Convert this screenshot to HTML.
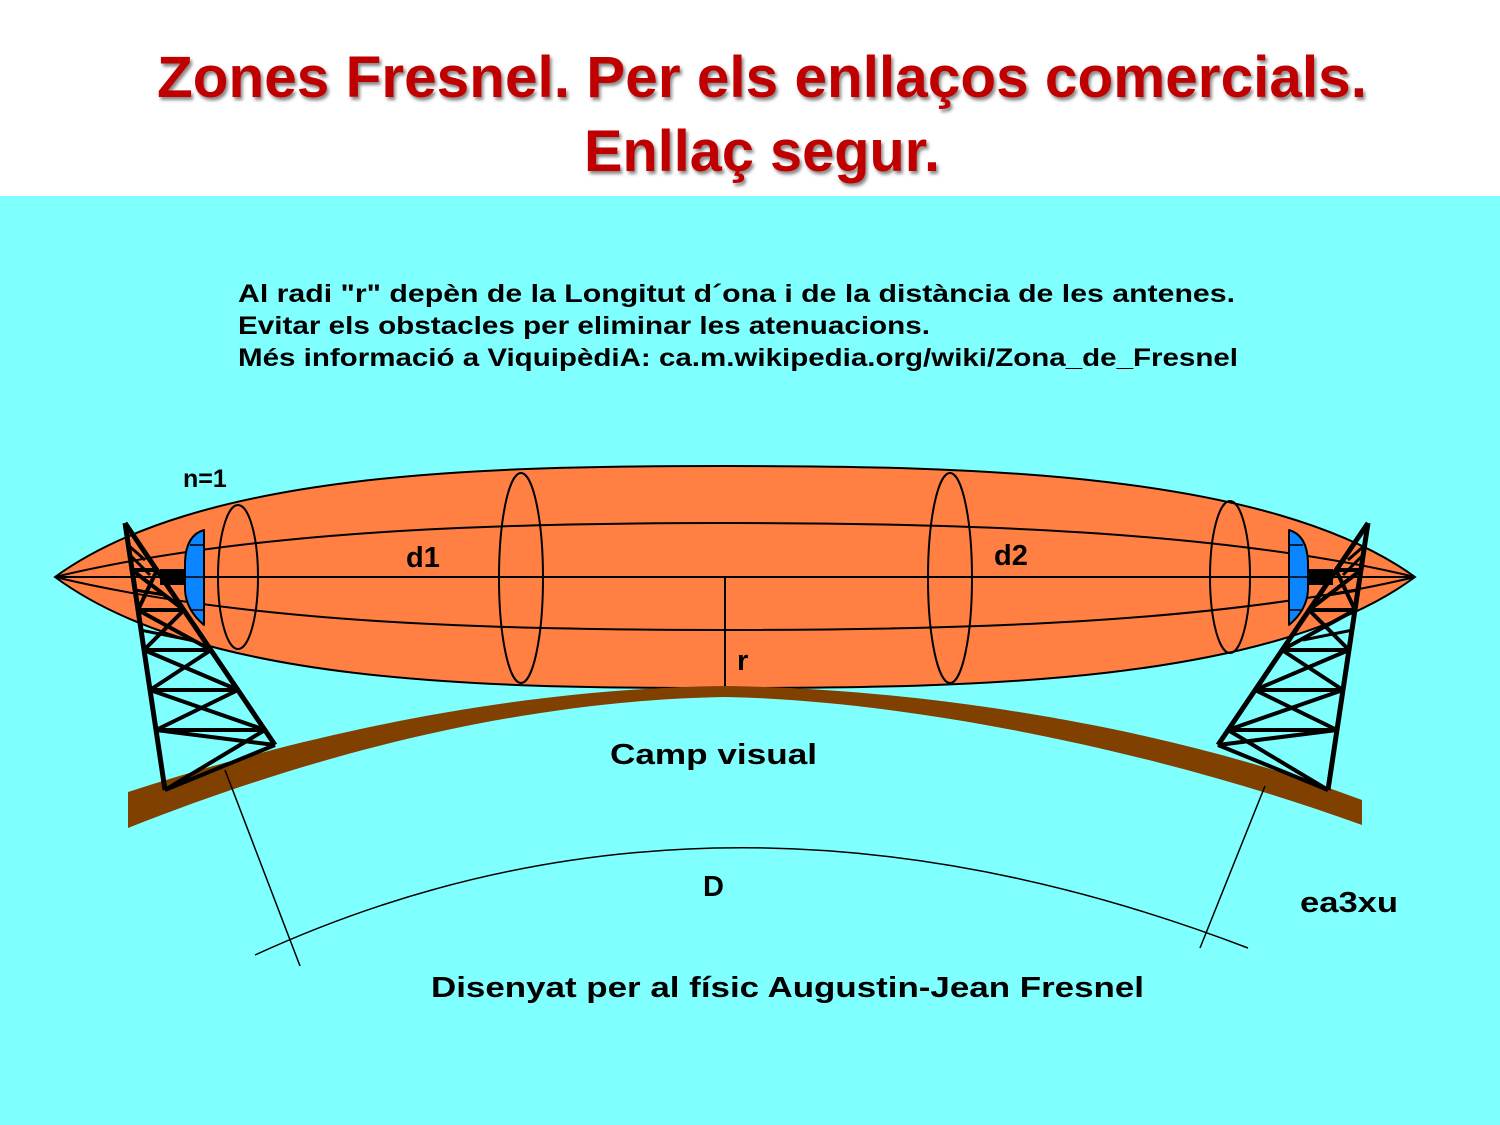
<!DOCTYPE html>
<html><head><meta charset="utf-8"><style>
html,body{margin:0;padding:0;background:#fff;}
svg{display:block;font-family:"Liberation Sans",Arial,sans-serif;font-weight:bold;}
</style></head><body>
<svg width="1500" height="1125" viewBox="0 0 1500 1125" xmlns="http://www.w3.org/2000/svg">
<defs>
<filter id="sh" x="-5%" y="-20%" width="110%" height="150%"><feDropShadow dx="2" dy="3" stdDeviation="1.5" flood-color="#555" flood-opacity="0.7"/></filter>
<g id="tower" fill="none" stroke="#000" stroke-width="4" stroke-linejoin="round">
<path d="M125,523 L165,790 M125,523 L275,745" stroke-width="5"/>
<path d="M132,570 L157,570 M138,610 L184,610 M144,650 L211,650 M150,690 L238,690 M156,730 L265,730 M165,790 L275,745"/>
<path d="M132,570 L184,610 M157,570 L138,610 M138,610 L211,650 M184,610 L144,650 M144,650 L238,690 M211,650 L150,690 M150,690 L265,730 M238,690 L156,730 M156,730 L275,745 M265,730 L165,790"/>
<path d="M128,545 L145,560 M130,555 L150,575 M135,590 L165,595 M140,630 L190,640" stroke-width="3"/>
<rect x="160" y="569" width="25" height="16" fill="#000" stroke="none"/>
<path d="M185,562 Q186,535 204,530 L204,625 Q186,610 185,590 Z" fill="#0a84ff" stroke="#000" stroke-width="2"/>
<path d="M185,577 L204,577 M190,545 L204,545 M190,610 L204,610" stroke-width="1.5"/>
</g>
</defs>
<rect x="0" y="0" width="1500" height="196" fill="#fff"/>
<rect x="0" y="196" width="1500" height="929" fill="#80ffff"/>
<g fill="#c00000" font-size="58" filter="url(#sh)">
<text x="762" y="97" text-anchor="middle" textLength="1210" lengthAdjust="spacingAndGlyphs">Zones Fresnel. Per els enllaços comercials.</text>
<text x="762" y="171" text-anchor="middle" textLength="356" lengthAdjust="spacingAndGlyphs">Enllaç segur.</text>
</g>
<g font-size="25" fill="#000">
<text x="238" y="302" textLength="997" lengthAdjust="spacingAndGlyphs">Al radi "r" depèn de la Longitut d´ona  i de la distància de les antenes.</text>
<text x="238" y="334" textLength="692" lengthAdjust="spacingAndGlyphs">Evitar els obstacles per eliminar les atenuacions.</text>
<text x="238" y="366" textLength="1000" lengthAdjust="spacingAndGlyphs">Més informació a ViquipèdiA: ca.m.wikipedia.org/wiki/Zona_de_Fresnel</text>
</g>
<path d="M55,577 C200,472 480,466 725,466 C970,466 1270,472 1415,577 C1270,684 970,688 725,688 C480,688 200,684 55,577Z" fill="#ff8042" stroke="#000" stroke-width="2"/>
<g fill="none" stroke="#000" stroke-width="2">
<path d="M55,577 C250,530 500,523 725,523 C950,523 1220,530 1415,577"/>
<path d="M55,577 C250,624 500,630 725,630 C950,630 1220,624 1415,577"/>
<line x1="55" y1="577" x2="1415" y2="577"/>
<line x1="725" y1="577" x2="725" y2="690"/>
<ellipse cx="238" cy="577" rx="20" ry="72"/>
<ellipse cx="521" cy="578" rx="22" ry="105"/>
<ellipse cx="950" cy="578" rx="22" ry="105"/>
<ellipse cx="1230" cy="577" rx="20" ry="76"/>
</g>
<path d="M128,792 C350,720 550,688 725,686 C900,688 1150,720 1362,800 L1362,825 C1150,748 900,700 725,697 C550,700 350,740 128,828Z" fill="#804000"/>
<use href="#tower"/>
<use href="#tower" transform="translate(1493,0) scale(-1,1)"/>
<g fill="none" stroke="#000" stroke-width="1.5">
<path d="M255,955 Q715,744 1248,948"/>
<line x1="225" y1="770" x2="300" y2="966"/>
<line x1="1265" y1="786" x2="1200" y2="948"/>
</g>
<g font-size="29" fill="#000">
<text x="183" y="487" font-size="25">n=1</text>
<text x="406" y="567">d1</text>
<text x="994" y="565">d2</text>
<text x="737" y="670">r</text>
<text x="610" y="764" textLength="207" lengthAdjust="spacingAndGlyphs">Camp visual</text>
<text x="703" y="896">D</text>
<text x="1300" y="912" textLength="98" lengthAdjust="spacingAndGlyphs">ea3xu</text>
<text x="431" y="997" textLength="713" lengthAdjust="spacingAndGlyphs">Disenyat per al físic Augustin-Jean Fresnel</text>
</g>
</svg>
</body></html>
